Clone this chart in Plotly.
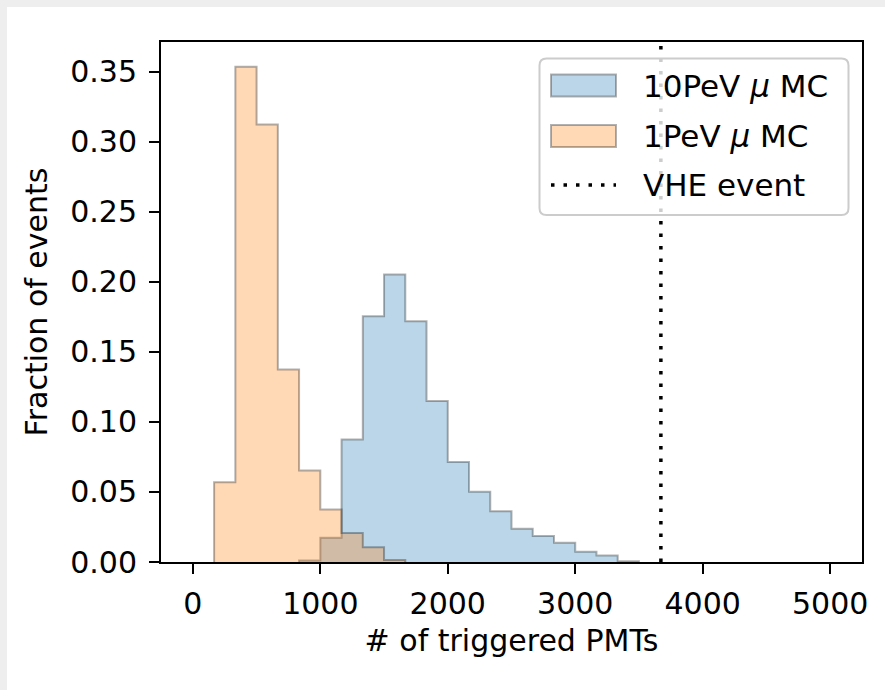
import plotly.graph_objects as go

# ---- data ----
bin_edges = [i * 5000 / 30 for i in range(31)]
mc10_values = [0, 0, 0, 0, 0, 0.0010, 0.0173, 0.0875, 0.1756, 0.2054,
               0.1720, 0.1149, 0.0715, 0.0501, 0.0363, 0.0237, 0.0186, 0.0137,
               0.0073, 0.0046, 0.0005, 0, 0, 0, 0, 0, 0, 0, 0, 0]
mc1_values = [0, 0.0570, 0.3537, 0.3125, 0.1375, 0.0654, 0.0375, 0.0208,
              0.0106, 0.0015, 0, 0, 0, 0, 0, 0, 0, 0, 0, 0,
              0, 0, 0, 0, 0, 0, 0, 0, 0, 0]
vhe_event = 3672
series_names = ["10PeV <i>μ</i> MC", "1PeV <i>μ</i> MC", "VHE event"]
x_ticks = [0, 1000, 2000, 3000, 4000, 5000]
y_ticks = [0, 0.05, 0.10, 0.15, 0.20, 0.25, 0.30, 0.35]

X_RANGE = [-250, 5250]
Y_MAX = max(max(mc10_values), max(mc1_values)) * 1.05

BLUE_FILL = "rgba(31,119,180,0.3)"
ORANGE_FILL = "rgba(255,127,14,0.3)"
EDGE = "rgba(0,0,0,0.3)"
FONT = "DejaVu Sans"

W, H = 885, 690
L, R, T, B = 161, 862, 42, 562


def step_xy(edges, vals):
    nz = [i for i, v in enumerate(vals) if v > 0]
    i0, i1 = nz[0], nz[-1] + 1
    e = list(edges[i0:i1 + 1])
    v = list(vals[i0:i1])
    xs = [e[0]] + e[:-1] + [e[-1]]
    ys = [0] + v + [0]
    return xs, ys


fig = go.Figure()
for vals, fill in [(mc10_values, BLUE_FILL), (mc1_values, ORANGE_FILL)]:
    xs, ys = step_xy(bin_edges, vals)
    fig.add_trace(go.Scatter(x=xs, y=ys, mode="lines", line_shape="hv",
                             fill="tozeroy", fillcolor=fill,
                             line=dict(color=EDGE, width=2),
                             showlegend=False, hoverinfo="skip"))

fig.add_trace(go.Scatter(x=[vhe_event, vhe_event], y=[0, Y_MAX], mode="lines",
                         line=dict(color="black", width=3.5, dash="3.5px,9px"),
                         showlegend=False, hoverinfo="skip"))


def px(xp):
    return (xp - L) / (R - L)


def py(yp):
    return (B - yp) / (B - T)


shapes = []
# page strips (top / left light gray)
shapes.append(dict(type="rect", xref="paper", yref="paper",
                   x0=px(0), x1=px(W), y0=py(7), y1=py(0),
                   fillcolor="#eeeeee", line=dict(width=0), layer="below"))
shapes.append(dict(type="rect", xref="paper", yref="paper",
                   x0=px(0), x1=px(7), y0=py(H), y1=py(0),
                   fillcolor="#eeeeee", line=dict(width=0), layer="below"))

# legend box (rounded)
lx0, lx1, ly0, ly1, r = 539.5, 848.5, 58.5, 215, 7


def P(xp, yp):
    return f"{px(xp)},{py(yp)}"


path = (f"M{P(lx0 + r, ly0)} L{P(lx1 - r, ly0)} Q{P(lx1, ly0)} {P(lx1, ly0 + r)} "
        f"L{P(lx1, ly1 - r)} Q{P(lx1, ly1)} {P(lx1 - r, ly1)} "
        f"L{P(lx0 + r, ly1)} Q{P(lx0, ly1)} {P(lx0, ly1 - r)} "
        f"L{P(lx0, ly0 + r)} Q{P(lx0, ly0)} {P(lx0 + r, ly0)} Z")
shapes.append(dict(type="path", xref="paper", yref="paper", path=path,
                   fillcolor="rgba(255,255,255,0.8)",
                   line=dict(color="#cccccc", width=2), layer="above"))

sw_x0, sw_x1 = 551, 616
for (y0, y1), fill in [((74.5, 96.5), BLUE_FILL), ((125, 147), ORANGE_FILL)]:
    shapes.append(dict(type="rect", xref="paper", yref="paper",
                       x0=px(sw_x0), x1=px(sw_x1), y0=py(y1), y1=py(y0),
                       fillcolor=fill, line=dict(color=EDGE, width=2), layer="above"))
shapes.append(dict(type="line", xref="paper", yref="paper",
                   x0=px(sw_x0), x1=px(sw_x1), y0=py(185), y1=py(185),
                   line=dict(color="black", width=3.5, dash="3.5px,9px"), layer="above"))

annotations = []
for name, yc in zip(series_names, [85.5, 136, 185]):
    annotations.append(dict(text=name, xref="paper", yref="paper",
                            x=px(641), y=py(yc), xanchor="left", yanchor="middle",
                            showarrow=False, font=dict(family=FONT, size=31, color="black")))

fig.update_layout(
    width=W, height=H,
    margin=dict(l=L, r=W - R, t=T, b=H - B, pad=0),
    paper_bgcolor="white", plot_bgcolor="white",
    font=dict(family=FONT, size=30, color="black"),
    shapes=shapes, annotations=annotations,
    showlegend=False,
)
fig.update_xaxes(range=X_RANGE, tickvals=x_ticks, ticktext=[str(v) for v in x_ticks],
                 ticks="outside", ticklen=10, tickwidth=2, tickcolor="black",
                 showline=True, linecolor="black", linewidth=2, mirror=True,
                 showgrid=False, zeroline=False,
                 title=dict(text="# of triggered PMTs", standoff=10,
                            font=dict(family=FONT, size=30, color="black")),
                 tickfont=dict(family=FONT, size=30, color="black"),
                 ticklabelstandoff=4)
fig.update_yaxes(range=[0, Y_MAX], tickvals=y_ticks, ticktext=[f"{v:.2f}" for v in y_ticks],
                 ticks="outside", ticklen=10, tickwidth=2, tickcolor="black",
                 showline=True, linecolor="black", linewidth=2, mirror=True,
                 showgrid=False, zeroline=False,
                 title=dict(text="Fraction of events", standoff=14,
                            font=dict(family=FONT, size=30, color="black")),
                 tickfont=dict(family=FONT, size=30, color="black"),
                 ticklabelstandoff=6)

fig.write_html("out.html")
